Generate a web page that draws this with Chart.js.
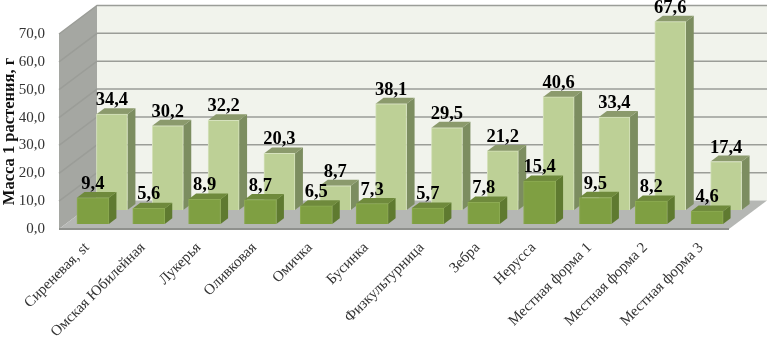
<!DOCTYPE html>
<html>
<head>
<meta charset="utf-8">
<script src="https://cdn.jsdelivr.net/npm/chart.js@4/dist/chart.umd.min.js"></script>
<style>
  html, body { margin: 0; padding: 0; background: #fff; }
  canvas { display: block; }
</style>
</head>
<body>
<canvas id="chart" width="767" height="337"></canvas>
<script>
const sorta = ["Сиреневая, st", "Омская Юбилейная", "Лукерья", "Оливковая", "Омичка", "Бусинка",
  "Физкультурница", "Зебра", "Нерусса", "Местная форма 1", "Местная форма 2", "Местная форма 3"];
const perednij = [9.4, 5.6, 8.9, 8.7, 6.5, 7.3, 5.7, 7.8, 15.4, 9.5, 8.2, 4.6];
const zadnij = [34.4, 30.2, 32.2, 20.3, 8.7, 38.1, 29.5, 21.2, 40.6, 33.4, 67.6, 17.4];
const yTicks = [0, 10, 20, 30, 40, 50, 60, 70];

const zapyataya = v => v.toFixed(1).replace(".", ",");

// глубина сцены и сдвиг рядов внутрь неё
const glubina = { dx: 38, dy: -28.5 };
const sdvig = [{ dx: 6, dy: -5 }, { dx: 25, dy: -19 }];
const tolshina = [{ dx: 7.5, dy: -5.7 }, { dx: 8, dy: -6 }];

const stenki = {
  id: "stenki",
  beforeDatasetsDraw(chart) {
    const { ctx, chartArea: a, scales: { y } } = chart;
    const poly = (pts, color) => {
      ctx.beginPath();
      pts.forEach((p, i) => i ? ctx.lineTo(p[0], p[1]) : ctx.moveTo(p[0], p[1]));
      ctx.closePath();
      ctx.fillStyle = color;
      ctx.fill();
    };
    const d = glubina;
    poly([[a.left + d.dx, a.top + d.dy], [chart.width, a.top + d.dy], [chart.width, a.bottom + d.dy], [a.left + d.dx, a.bottom + d.dy]], "#f1f3ec");
    poly([[a.left, a.top], [a.left + d.dx, a.top + d.dy], [a.left + d.dx, a.bottom + d.dy], [a.left, a.bottom]], "#a5a7a2");
    poly([[a.left, a.bottom], [a.left + d.dx, a.bottom + d.dy], [chart.width, a.bottom + d.dy], [a.right, a.bottom]], "#b5b7b4");

    ctx.lineWidth = 1.5;
    ctx.strokeStyle = "#9b9d98";
    yTicks.forEach(t => {
      const py = y.getPixelForValue(t);
      if (t > 0) {
        ctx.beginPath();
        ctx.moveTo(a.left, py);
        ctx.lineTo(a.left + d.dx, py + d.dy);
        ctx.lineTo(chart.width, py + d.dy);
        ctx.stroke();
      }
    });
    ctx.strokeStyle = "#8f918d";
    ctx.lineWidth = 2;
    ctx.beginPath();
    ctx.moveTo(a.left, a.bottom);
    ctx.lineTo(a.right, a.bottom);
    ctx.stroke();
  },
  beforeDatasetDraw(chart, args) {
    const { ctx } = chart;
    const ryad = args.index;
    const s = sdvig[ryad], t = tolshina[ryad];
    const cvetaBok = ["#5f7a30", "#7c8d60"], cvetaVerh = ["#6f8a3c", "#8b9a6c"];
    ctx.save();
    ctx.translate(s.dx, s.dy);
    // боковая и верхняя грани, переднюю рисует сам Chart.js
    args.meta.data.forEach(bar => {
      const l = bar.x - bar.width / 2, r = bar.x + bar.width / 2;
      ctx.fillStyle = cvetaBok[ryad];
      ctx.beginPath();
      ctx.moveTo(r, bar.y);
      ctx.lineTo(r + t.dx, bar.y + t.dy);
      ctx.lineTo(r + t.dx, bar.base + t.dy);
      ctx.lineTo(r, bar.base);
      ctx.closePath();
      ctx.fill();
      ctx.fillStyle = cvetaVerh[ryad];
      ctx.beginPath();
      ctx.moveTo(l, bar.y);
      ctx.lineTo(l + t.dx, bar.y + t.dy);
      ctx.lineTo(r + t.dx, bar.y + t.dy);
      ctx.lineTo(r, bar.y);
      ctx.closePath();
      ctx.fill();
    });
  },
  afterDatasetDraw(chart) {
    chart.ctx.restore();
  },
  afterDatasetsDraw(chart) {
    const { ctx } = chart;
    ctx.save();
    ctx.font = "bold 18.5px 'Liberation Serif'";
    ctx.fillStyle = "#000";
    ctx.textAlign = "center";
    ctx.textBaseline = "alphabetic";
    [1, 0].forEach(ryad => {
      const s = sdvig[ryad];
      chart.getDatasetMeta(ryad).data.forEach((bar, i) => {
        const v = chart.data.datasets[ryad].data[i];
        ctx.fillText(zapyataya(v), bar.x + s.dx, bar.y + s.dy - 9);
      });
    });
    ctx.restore();
  }
};

new Chart(document.getElementById("chart"), {
  type: "bar",
  data: {
    labels: sorta,
    datasets: [
      { data: perednij, backgroundColor: "#7f9f42", borderColor: "#8dab53", borderWidth: 1, barThickness: 32, grouped: false, clip: false },
      { data: zadnij, backgroundColor: "#bdd096", borderColor: "#d6e2bd", borderWidth: 1, barThickness: 31, grouped: false, clip: false }
    ]
  },
  options: {
    responsive: false,
    animation: false,
    events: [],
    layout: { padding: { top: 34, right: 38, left: 0, bottom: 0 } },
    plugins: { legend: { display: false }, tooltip: { enabled: false } },
    scales: {
      x: {
        grid: { display: false, drawTicks: false },
        border: { display: false },
        afterFit(scale) { scale.height = 108; },
        ticks: {
          autoSkip: false,
          minRotation: 45,
          maxRotation: 45,
          padding: 10,
          color: "#333",
          font: { family: "'Liberation Serif'", size: 15 }
        }
      },
      y: {
        min: 0,
        max: 70,
        afterFit(scale) { scale.width = 59; },
        grid: { display: false, drawTicks: false },
        border: { display: false },
        title: {
          display: true,
          text: "Масса 1 растения, г",
          color: "#111",
          padding: 0,
          font: { family: "'Liberation Serif'", size: 16.5, weight: "bold" }
        },
        ticks: {
          stepSize: 10,
          padding: 14,
          color: "#333",
          font: { family: "'Liberation Serif'", size: 15 },
          callback: v => zapyataya(v)
        }
      }
    }
  },
  plugins: [stenki]
});
</script>
</body>
</html>
